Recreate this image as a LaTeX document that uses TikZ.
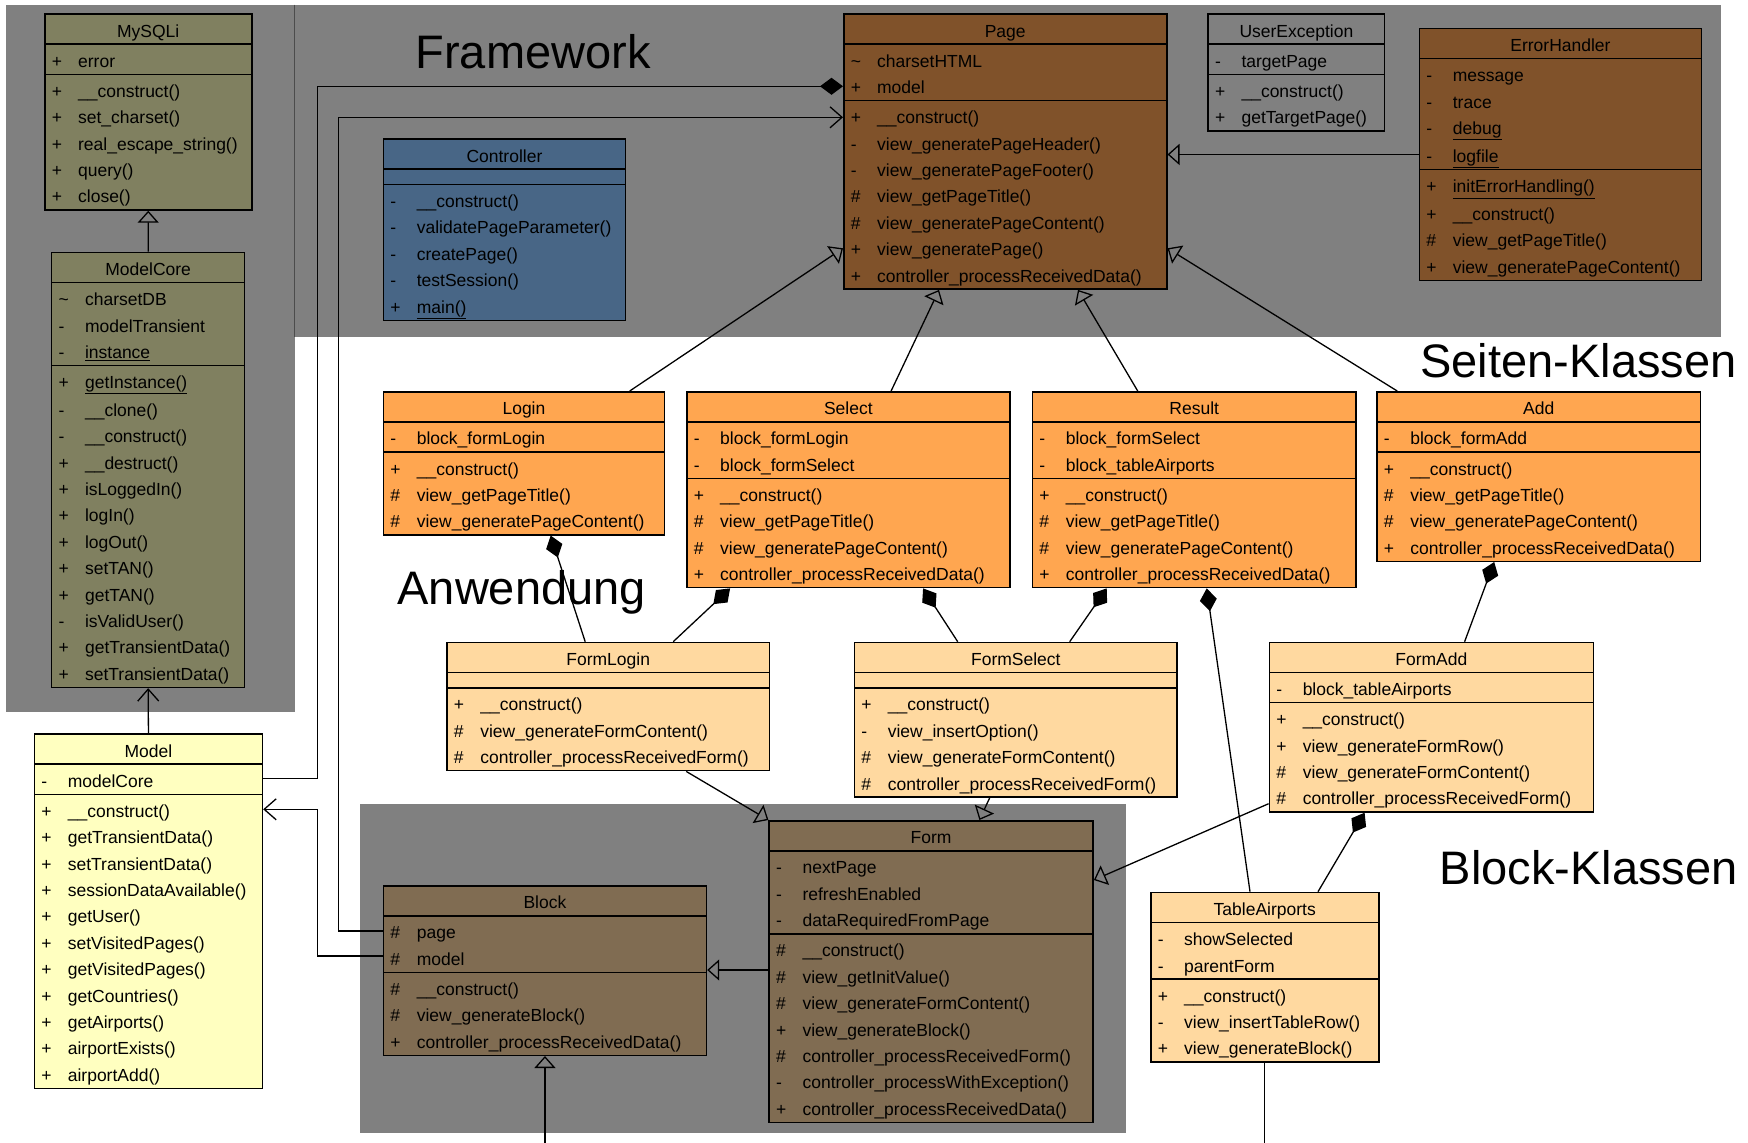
\documentclass[tikz,border=0pt]{standalone}
\usepackage{fontspec}
\setmainfont{Liberation Sans}
\usepackage{xcolor}
\usepackage{tikz}
\usetikzlibrary{shapes.multipart,calc,arrows.meta}

\definecolor{zonegray}{RGB}{128,128,128}
\definecolor{olivebox}{RGB}{128,128,96}
\definecolor{brownbox}{RGB}{128,82,42}
\definecolor{bluebox}{RGB}{72,102,134}
\definecolor{orangebox}{RGB}{255,166,80}
\definecolor{lightbox}{RGB}{255,217,160}
\definecolor{yellowbox}{RGB}{255,255,192}
\definecolor{khakibox}{RGB}{128,108,82}

% one member row: visibility sign, then name
\newcommand{\rowstrut}{\rule[-5.2pt]{0pt}{26.4pt}}
\newcommand{\mem}[2]{\rowstrut\hspace*{7pt}\makebox[26.4pt][l]{#1}#2}
\newcommand{\noattr}{\rule{0pt}{11.5pt}}
\newcommand{\cname}[1]{\centering\rowstrut #1\par}

\begin{document}
\begin{tikzpicture}[x=1pt, y=-1pt,
  umlclass/.style={rectangle split, rectangle split parts=3, draw, line width=1.5pt,
    anchor=north west, inner xsep=0pt, inner ysep=1.1pt,
    font=\fontsize{17.5}{26.4}\selectfont},
  gen/.style={line width=1.3pt, -{Triangle[open,length=12pt,width=21pt]}},
  nav/.style={line width=1.3pt, -{Straight Barb[length=12pt,width=21pt]}},
  comp/.style={line width=1.3pt, -{Diamond[length=23pt,width=17pt]}},
  zone/.style={fill=zonegray},
  zonetitle/.style={font=\fontsize{47}{50}\selectfont}]

  \useasboundingbox (0,0) rectangle (1748,1143);
  \fill[white] (0,0) rectangle (1748,1143);

  % Background zones
  \fill[zone] (5.6,4.5) rectangle (294.5,712);
  \fill[zone] (294.5,4.5) rectangle (1721,337);
  \fill[zone] (360,804) rectangle (1126,1133);
  \draw[line width=1pt, black!70] (294.5,4.5) -- (294.5,337);

  \node[zonetitle, anchor=base west] (lblframework) at (412,68) {Framework};
  \node[zonetitle, anchor=base east] (lblseiten) at (1740,377) {Seiten-Klassen};
  \node[zonetitle, anchor=base west] (lblanwendung) at (394,604) {Anwendung};
  \node[zonetitle, anchor=base east] (lblblock) at (1741,884) {Block-Klassen};

  % Model layer
  \node[umlclass, fill=olivebox, text width=207pt] (mysqli) at (44,13.3) {\cname{MySQLi}
    \nodepart{two}\mem{+}{error}
    \nodepart{three}\mem{+}{\_\_construct()}\\
    \mem{+}{set\_charset()}\\
    \mem{+}{real\_escape\_string()}\\
    \mem{+}{query()}\\
    \mem{+}{close()}};

  \node[umlclass, fill=olivebox, text width=193pt] (modelcore) at (50.9,251.7) {\cname{ModelCore}
    \nodepart{two}\mem{\textasciitilde}{charsetDB}\\
    \mem{-}{modelTransient}\\
    \mem{-}{\underline{instance}}
    \nodepart{three}\mem{+}{\underline{getInstance()}}\\
    \mem{-}{\_\_clone()}\\
    \mem{-}{\_\_construct()}\\
    \mem{+}{\_\_destruct()}\\
    \mem{+}{isLoggedIn()}\\
    \mem{+}{logIn()}\\
    \mem{+}{logOut()}\\
    \mem{+}{setTAN()}\\
    \mem{+}{getTAN()}\\
    \mem{-}{isValidUser()}\\
    \mem{+}{getTransientData()}\\
    \mem{+}{setTransientData()}};

  \node[umlclass, fill=yellowbox, text width=228pt] (model) at (33.7,733.3) {\cname{Model}
    \nodepart{two}\mem{-}{modelCore}
    \nodepart{three}\mem{+}{\_\_construct()}\\
    \mem{+}{getTransientData()}\\
    \mem{+}{setTransientData()}\\
    \mem{+}{sessionDataAvailable()}\\
    \mem{+}{getUser()}\\
    \mem{+}{setVisitedPages()}\\
    \mem{+}{getVisitedPages()}\\
    \mem{+}{getCountries()}\\
    \mem{+}{getAirports()}\\
    \mem{+}{airportExists()}\\
    \mem{+}{airportAdd()}};

  % Framework
  \node[umlclass, fill=bluebox, text width=242pt] (controller) at (382.7,138.3) {\cname{Controller}
    \nodepart{two}\noattr
    \nodepart{three}\mem{-}{\_\_construct()}\\
    \mem{-}{validatePageParameter()}\\
    \mem{-}{createPage()}\\
    \mem{-}{testSession()}\\
    \mem{+}{\underline{main()}}};

  \node[umlclass, fill=brownbox, text width=323pt] (page) at (843,13.3) {\cname{Page}
    \nodepart{two}\mem{\textasciitilde}{charsetHTML}\\
    \mem{+}{model}
    \nodepart{three}\mem{+}{\_\_construct()}\\
    \mem{-}{view\_generatePageHeader()}\\
    \mem{-}{view\_generatePageFooter()}\\
    \mem{\#}{view\_getPageTitle()}\\
    \mem{\#}{view\_generatePageContent()}\\
    \mem{+}{view\_generatePage()}\\
    \mem{+}{controller\_processReceivedData()}};

  \node[umlclass, fill=zonegray, text width=176.5pt] (userexception) at (1207.4,13.3) {\cname{UserException}
    \nodepart{two}\mem{-}{targetPage}
    \nodepart{three}\mem{+}{\_\_construct()}\\
    \mem{+}{getTargetPage()}};

  \node[umlclass, fill=brownbox, text width=282pt] (errorhandler) at (1418.7,27.7) {\cname{ErrorHandler}
    \nodepart{two}\mem{-}{message}\\
    \mem{-}{trace}\\
    \mem{-}{\underline{debug}}\\
    \mem{-}{\underline{logfile}}
    \nodepart{three}\mem{+}{\underline{initErrorHandling()}}\\
    \mem{+}{\_\_construct()}\\
    \mem{\#}{view\_getPageTitle()}\\
    \mem{+}{view\_generatePageContent()}};

  % Seiten-Klassen
  \node[umlclass, fill=orangebox, text width=281pt] (login) at (382.7,391) {\cname{Login}
    \nodepart{two}\mem{-}{block\_formLogin}
    \nodepart{three}\mem{+}{\_\_construct()}\\
    \mem{\#}{view\_getPageTitle()}\\
    \mem{\#}{view\_generatePageContent()}};

  \node[umlclass, fill=orangebox, text width=323pt] (select) at (686.1,391) {\cname{Select}
    \nodepart{two}\mem{-}{block\_formLogin}\\
    \mem{-}{block\_formSelect}
    \nodepart{three}\mem{+}{\_\_construct()}\\
    \mem{\#}{view\_getPageTitle()}\\
    \mem{\#}{view\_generatePageContent()}\\
    \mem{+}{controller\_processReceivedData()}};

  \node[umlclass, fill=orangebox, text width=323.5pt] (result) at (1031.7,391) {\cname{Result}
    \nodepart{two}\mem{-}{block\_formSelect}\\
    \mem{-}{block\_tableAirports}
    \nodepart{three}\mem{+}{\_\_construct()}\\
    \mem{\#}{view\_getPageTitle()}\\
    \mem{\#}{view\_generatePageContent()}\\
    \mem{+}{controller\_processReceivedData()}};

  \node[umlclass, fill=orangebox, text width=323.5pt] (add) at (1376.2,391) {\cname{Add}
    \nodepart{two}\mem{-}{block\_formAdd}
    \nodepart{three}\mem{+}{\_\_construct()}\\
    \mem{\#}{view\_getPageTitle()}\\
    \mem{\#}{view\_generatePageContent()}\\
    \mem{+}{controller\_processReceivedData()}};

  % Block-Klassen
  \node[umlclass, fill=lightbox, text width=322.5pt] (formlogin) at (446.2,641.7) {\cname{FormLogin}
    \nodepart{two}\noattr
    \nodepart{three}\mem{+}{\_\_construct()}\\
    \mem{\#}{view\_generateFormContent()}\\
    \mem{\#}{controller\_processReceivedForm()}};

  \node[umlclass, fill=lightbox, text width=322.7pt] (formselect) at (853.7,641.7) {\cname{FormSelect}
    \nodepart{two}\noattr
    \nodepart{three}\mem{+}{\_\_construct()}\\
    \mem{-}{view\_insertOption()}\\
    \mem{\#}{view\_generateFormContent()}\\
    \mem{\#}{controller\_processReceivedForm()}};

  \node[umlclass, fill=lightbox, text width=324pt] (formadd) at (1268.6,641.7) {\cname{FormAdd}
    \nodepart{two}\mem{-}{block\_tableAirports}
    \nodepart{three}\mem{+}{\_\_construct()}\\
    \mem{+}{view\_generateFormRow()}\\
    \mem{\#}{view\_generateFormContent()}\\
    \mem{\#}{controller\_processReceivedForm()}};

  \node[umlclass, fill=lightbox, text width=228pt] (tableairports) at (1150,891.7) {\cname{TableAirports}
    \nodepart{two}\mem{-}{showSelected}\\
    \mem{-}{parentForm}
    \nodepart{three}\mem{+}{\_\_construct()}\\
    \mem{-}{view\_insertTableRow()}\\
    \mem{+}{view\_generateBlock()}};

  \node[umlclass, fill=khakibox, text width=323pt] (block) at (382.7,885) {\cname{Block}
    \nodepart{two}\mem{\#}{page}\\
    \mem{\#}{model}
    \nodepart{three}\mem{\#}{\_\_construct()}\\
    \mem{\#}{view\_generateBlock()}\\
    \mem{+}{controller\_processReceivedData()}};

  \node[umlclass, fill=khakibox, text width=324pt] (form) at (768.4,820) {\cname{Form}
    \nodepart{two}\mem{-}{nextPage}\\
    \mem{-}{refreshEnabled}\\
    \mem{-}{dataRequiredFromPage}
    \nodepart{three}\mem{\#}{\_\_construct()}\\
    \mem{\#}{view\_getInitValue()}\\
    \mem{\#}{view\_generateFormContent()}\\
    \mem{+}{view\_generateBlock()}\\
    \mem{\#}{controller\_processReceivedForm()}\\
    \mem{-}{controller\_processWithException()}\\
    \mem{+}{controller\_processReceivedData()}};

  % Model connectors
  \draw[gen] (modelcore.north) -- (mysqli.south);
  \draw[nav] (model.north) -- (modelcore.south);
  \draw[comp] ($(model.north east)+(0,45)$) -- ++(54,0) |- ($(page.north west)+(0,73)$);
  \draw[nav] ($(block.north west)+(0,46)$) -- ++(-44,0) |- ($(page.north west)+(0,104)$);
  \draw[nav] ($(block.north west)+(0,71)$) -- ++(-65,0) |- ($(model.north east)+(0,76)$);

  % inheritance to Page
  \draw[gen] (errorhandler.west) -- (errorhandler.west -| page.east);
  \draw[gen] ($(login.north west)+(247,0)$) -- ($(page.north west)+(0,235)$);
  \draw[gen] ($(select.north west)+(205,0)$) -- ($(page.south west)+(96,0)$);
  \draw[gen] ($(result.north west)+(106,0)$) -- ($(page.south west)+(235,0)$);
  \draw[gen] ($(add.north west)+(21,0)$) -- ($(page.north east)+(0,235)$);

  % pages own their blocks
  \draw[comp] ($(formlogin.north west)+(139,0)$) -- ($(login.south west)+(168,0)$);
  \draw[comp] ($(formlogin.north west)+(227,0)$) -- ($(select.south west)+(44,0)$);
  \draw[comp] ($(formselect.north west)+(104,0)$) -- ($(select.south west)+(237,0)$);
  \draw[comp] ($(formselect.north west)+(216,0)$) -- ($(result.south west)+(75,0)$);
  \draw[comp] ($(tableairports.north west)+(100,0)$) -- ($(result.south west)+(175,0)$);
  \draw[comp] ($(formadd.north west)+(196,0)$) -- ($(add.south west)+(118,0)$);
  \draw[comp] ($(tableairports.north west)+(168,0)$) -- ($(formadd.south west)+(96,0)$);

  % inheritance to Form and Block
  \draw[gen] ($(formlogin.south west)+(240,0)$) -- (form.north west);
  \draw[gen] ($(formselect.south west)+(136,0)$) -- ($(form.north west)+(211,0)$);
  \draw[gen] ($(formadd.south west)+(0,-9)$) -- ($(form.north east)+(0,60)$);
  \draw[gen] ($(form.north west)+(0,150)$) -- ($(block.north east)+(0,85)$);
  \coordinate (blockstub) at ($(block.south)+(0,90)$);
  \draw[gen] (blockstub) -- (block.south);
  \coordinate (tablestub) at ($(tableairports.south)+(0,82)$);
  \draw[line width=1.3pt] (tableairports.south) -- (tablestub);
\end{tikzpicture}
\end{document}
